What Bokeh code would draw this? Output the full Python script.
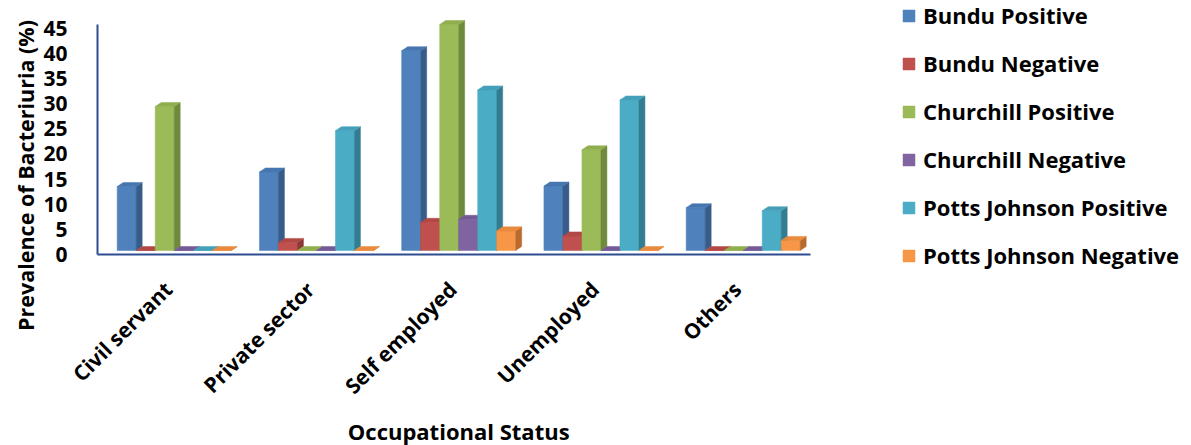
from math import pi

from bokeh.embed import file_html
from bokeh.models import FixedTicker, Label, Legend, LegendItem, LinearAxis, Range1d
from bokeh.plotting import figure
from bokeh.resources import INLINE

# ---- data -------------------------------------------------------------
categories = ["Civil servant", "Private sector", "Self employed", "Unemployed", "Others"]
series_names = [
    "Bundu Positive",
    "Bundu Negative",
    "Churchill Positive",
    "Churchill Negative",
    "Potts Johnson Positive",
    "Potts Johnson Negative",
]
bundu_positive = [12.7, 15.6, 39.7, 12.8, 8.5]
bundu_negative = [0.0, 1.6, 5.6, 2.9, 0.0]
churchill_positive = [28.6, 0.0, 44.9, 20.0, 0.0]
churchill_negative = [0.0, 0.0, 6.2, 0.0, 0.0]
potts_positive = [0.0, 23.8, 31.9, 29.9, 7.9]
potts_negative = [0.0, 0.0, 3.9, 0.0, 2.0]
y_ticks = [0, 5, 10, 15, 20, 25, 30, 35, 40, 45]

series_values = [
    bundu_positive,
    bundu_negative,
    churchill_positive,
    churchill_negative,
    potts_positive,
    potts_negative,
]

# front / side / top shades for each series (Office-style palette)
front_colors = ["#4F81BD", "#C0504D", "#9BBB59", "#8064A2", "#4BACC6", "#F79646"]
side_colors = ["#375C8A", "#8B3735", "#6F8A3C", "#5B4677", "#327D91", "#B86B2C"]
top_colors = ["#4676B0", "#B24845", "#8FAF4F", "#745A96", "#44A0B9", "#E98A3C"]

# ---- geometry of the pseudo-3D columns ---------------------------------
BAR_W = 0.1336   # width of one column in category units
DEPTH_X = 0.042  # oblique depth, horizontal part
DEPTH_Y = 0.80   # oblique depth, vertical part (value units)
FLOOR = 0.795    # the floor's front edge sits below the columns' base
LABEL_SHIFT = -0.042  # category labels hang slightly left of the group centre

# the plot area covers the whole canvas; both axes are pinned at the
# chart's corner so their labels and the legend stay inside it
X_START, X_END = -1.2211, 7.1516
X_AXIS_START, X_AXIS_END = -0.539, 4.473
Y_START, Y_END = -38.74, 49.67

FONT = "Open Sans"
AXIS_COLOR = "#2E4D8F"

p = figure(
    width=1191,
    height=445,
    x_range=Range1d(X_START, X_END),
    y_range=Range1d(Y_START, Y_END),
    output_backend="svg",
    toolbar_location=None,
    x_axis_location=None,
    y_axis_location=None,
    min_border=0,
)
p.extra_y_ranges = {"scale": Range1d(Y_START + FLOOR, Y_END + FLOOR)}
p.outline_line_color = None
p.xgrid.visible = False
p.ygrid.visible = False
p.background_fill_color = "white"
p.border_fill_color = "white"

legend_items = []
n = len(series_values)
for j, vals in enumerate(series_values):
    lefts = [i - n * BAR_W / 2 + j * BAR_W for i in range(len(categories))]
    rights = [x + BAR_W for x in lefts]

    front = p.quad(
        left=lefts, right=rights, bottom=[0] * len(vals), top=vals,
        fill_color=front_colors[j], line_color=front_colors[j], line_width=0.5,
    )
    side_xs = [[r, r + DEPTH_X, r + DEPTH_X, r] for r in rights]
    side_ys = [[0, DEPTH_Y, v + DEPTH_Y, v] for v in vals]
    p.patches(side_xs, side_ys, fill_color=side_colors[j],
              line_color=side_colors[j], line_width=0.5)
    top_xs = [[l, r, r + DEPTH_X, l + DEPTH_X] for l, r in zip(lefts, rights)]
    top_ys = [[v, v, v + DEPTH_Y, v + DEPTH_Y] for v in vals]
    p.patches(top_xs, top_ys, fill_color=top_colors[j],
              line_color=top_colors[j], line_width=0.5)
    legend_items.append(LegendItem(label=series_names[j], renderers=[front]))

# ---- value axis, pinned to the left edge of the floor ----------------------
yaxis = LinearAxis(y_range_name="scale", fixed_location=X_AXIS_START, bounds=(0, 45.6))
yaxis.ticker = FixedTicker(ticks=y_ticks)
yaxis.major_label_text_font = FONT
yaxis.major_label_text_font_style = "bold"
yaxis.major_label_text_font_size = "21px"
yaxis.major_label_text_color = "black"
yaxis.major_label_standoff = 24
yaxis.major_tick_line_color = None
yaxis.minor_tick_line_color = None
yaxis.axis_line_color = AXIS_COLOR
yaxis.axis_line_width = 2
p.add_layout(yaxis, "left")

ytitle = Label(
    x=25, y=270, x_units="screen", y_units="screen", angle=pi / 2,
    text="Prevalence of Bacteriuria (%)",
    text_align="center", text_baseline="middle",
    text_font=FONT, text_font_style="bold", text_font_size="21.5px",
    text_color="black",
)
p.add_layout(ytitle)

# ---- category axis, pinned to the front edge of the floor -------------------
xaxis = LinearAxis(fixed_location=-FLOOR, bounds=(X_AXIS_START, X_AXIS_END))
xaxis.ticker = FixedTicker(ticks=[i + LABEL_SHIFT for i in range(len(categories))])
xaxis.major_label_overrides = {i + LABEL_SHIFT: c for i, c in enumerate(categories)}
xaxis.major_label_orientation = pi / 4
xaxis.major_label_text_font = FONT
xaxis.major_label_text_font_style = "bold"
xaxis.major_label_text_font_size = "21px"
xaxis.major_label_text_color = "black"
xaxis.major_label_standoff = 25
xaxis.major_tick_line_color = None
xaxis.minor_tick_line_color = None
xaxis.axis_line_color = AXIS_COLOR
xaxis.axis_line_width = 2
p.add_layout(xaxis, "below")

# category-axis title, centred under the middle group
xtitle = Label(
    x=2, y=15, x_units="data", y_units="screen",
    text="Occupational Status",
    text_align="center", text_baseline="middle",
    text_font=FONT, text_font_style="bold", text_font_size="22px",
    text_color="black",
)
p.add_layout(xtitle)

# ---- legend ---------------------------------------------------------------
legend = Legend(
    items=legend_items,
    location=(901, 175),
    orientation="vertical",
    glyph_width=15,
    glyph_height=15,
    label_standoff=7,
    spacing=18,
    padding=0,
    margin=0,
    border_line_color=None,
    background_fill_alpha=0,
    label_text_font=FONT,
    label_text_font_style="bold",
    label_text_font_size="22px",
    label_text_color="black",
)
p.add_layout(legend, "center")

open("out.html", "w").write(file_html(p, INLINE))
